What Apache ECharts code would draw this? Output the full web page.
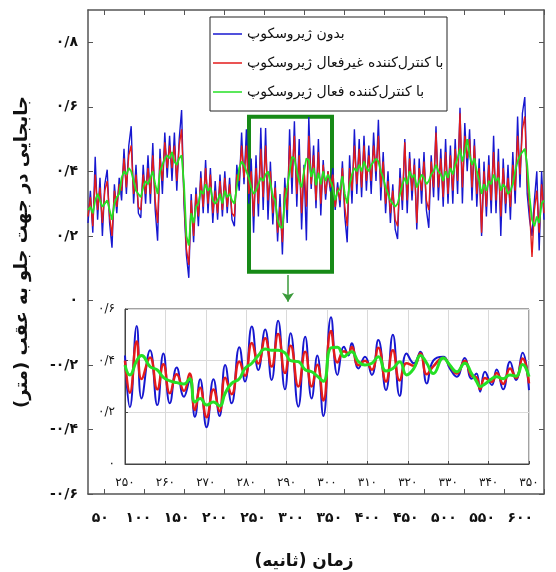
<!DOCTYPE html>
<html><head><meta charset="utf-8">
<script src="https://cdn.jsdelivr.net/npm/echarts@6/dist/echarts.min.js"></script>
<style>html,body{margin:0;padding:0;background:#fff}#c{width:556px;height:572px}</style>
</head><body><div id="c"></div>
<script>
// ---------- data ----------
const seriesNames = ['بدون ژیروسکوپ', 'با کنترل‌کننده غیرفعال ژیروسکوپ', 'با کنترل‌کننده فعال ژیروسکوپ'];
const yTitle = 'جابجایی در جهت جلو به عقب (متر)';
const xTitle = 'زمان (ثانیه)';

const mainTime = [30,33,36,39,42,45,48,51,54,57,60,63,66,69,72,75,78,81,84,87,90,93,96,99,102,105,108,111,114,117,120,123,126,129,132,135,138,141,144,147,150,153,156,159,162,165,168,171,174,177,180,183,186,189,192,195,198,201,204,207,210,213,216,219,222,225,228,231,234,237,240,243,246,249,252,255,258,261,264,267,270,273,276,279,282,285,288,291,294,297,300,303,306,309,312,315,318,321,324,327,330,333,336,339,342,345,348,351,354,357,360,363,366,369,372,375,378,381,384,387,390,393,396,399,402,405,408,411,414,417,420,423,426,429,432,435,438,441,444,447,450,453,456,459,462,465,468,471,474,477,480,483,486,489,492,495,498,501,504,507,510,513,516,519,522,525,528,531,534,537,540,543,546,549,552,555,558,561,564,567,570,573,576,579,582,585,588,591,594,597,600];

const mainBlue = [
 .24,.34,.21,.445,.25,.38,.20,.36,.405,.24,
 .163,.36,.27,.38,.31,.47,.33,.48,.54,.30,
 .42,.27,.256,.42,.30,.45,.30,.488,.28,.185,
 .47,.33,.52,.38,.51,.37,.52,.34,.50,.59,
 .30,.14,.07,.33,.18,.35,.23,.40,.27,.435,
 .27,.41,.24,.37,.25,.39,.26,.40,.27,.38,
 .25,.23,.42,.34,.52,.36,.53,.30,.44,.21,
 .45,.26,.535,.28,.534,.25,.43,.235,.37,.183,
 .33,.142,.38,.24,.53,.33,.555,.29,.50,.22,
 .42,.186,.568,.345,.48,.286,.50,.263,.435,.312,
 .40,.338,.41,.28,.366,.289,.431,.26,.18,.45,
 .30,.53,.33,.50,.32,.51,.34,.48,.33,.52,
 .37,.56,.31,.46,.27,.40,.24,.36,.22,.19,
 .41,.28,.50,.27,.46,.31,.44,.22,.44,.30,
 .46,.28,.225,.45,.32,.54,.31,.47,.29,.50,
 .30,.48,.30,.50,.33,.597,.30,.55,.40,.53,
 .31,.50,.29,.44,.20,.43,.26,.45,.27,.51,
 .27,.47,.20,.44,.27,.42,.25,.46,.30,.57,
 .35,.58,.63,.33,.25,.20,.31,.40,.155,.40,
 .25];

const mainRed = [
 .26,.32,.23,.39,.28,.35,.24,.34,.37,.26,
 .20,.34,.29,.36,.34,.44,.35,.45,.48,.33,
 .39,.29,.28,.39,.33,.41,.33,.45,.31,.24,
 .44,.37,.49,.41,.48,.41,.48,.37,.48,.53,
 .32,.16,.11,.31,.20,.33,.26,.38,.29,.41,
 .30,.39,.27,.34,.27,.37,.28,.38,.29,.36,
 .27,.26,.39,.37,.48,.38,.48,.33,.40,.26,
 .41,.30,.47,.32,.48,.31,.40,.27,.35,.21,
 .29,.18,.35,.28,.48,.38,.51,.33,.45,.27,
 .41,.29,.51,.36,.45,.31,.46,.30,.42,.33,
 .40,.35,.39,.29,.35,.31,.41,.29,.23,.41,
 .34,.48,.36,.47,.35,.48,.37,.45,.37,.48,
 .40,.51,.35,.43,.30,.37,.27,.34,.25,.23,
 .38,.31,.49,.31,.44,.34,.42,.24,.41,.34,
 .43,.31,.28,.43,.35,.52,.35,.44,.32,.46,
 .33,.45,.34,.47,.37,.58,.35,.51,.44,.50,
 .35,.48,.33,.41,.21,.40,.29,.42,.31,.46,
 .31,.43,.26,.41,.30,.38,.29,.42,.34,.51,
 .39,.53,.57,.37,.28,.135,.28,.34,.21,.36,
 .27];

const mainGreen = [
 .28,.29,.27,.31,.33,.31,.29,.30,.31,.28,
 .25,.30,.32,.33,.38,.40,.39,.41,.40,.37,
 .34,.33,.32,.35,.37,.36,.38,.40,.36,.33,
 .40,.42,.44,.45,.44,.46,.43,.42,.44,.45,
 .36,.20,.17,.27,.24,.29,.30,.34,.33,.36,
 .34,.35,.31,.30,.31,.33,.30,.34,.32,.33,
 .31,.30,.35,.41,.43,.42,.40,.38,.35,.33,
 .34,.36,.38,.37,.39,.40,.364,.322,.31,.25,
 .228,.225,.31,.35,.40,.445,.44,.40,.37,.35,
 .40,.44,.435,.383,.41,.357,.396,.36,.40,.37,
 .39,.37,.35,.31,.338,.345,.385,.33,.30,.36,
 .39,.41,.40,.42,.40,.43,.41,.40,.42,.43,
 .44,.43,.40,.38,.35,.33,.31,.30,.29,.30,
 .33,.36,.38,.36,.40,.38,.39,.35,.37,.39,
 .38,.36,.37,.39,.40,.42,.40,.39,.37,.40,
 .38,.41,.39,.42,.44,.47,.43,.46,.50,.45,
 .42,.44,.40,.37,.33,.36,.34,.37,.36,.39,
 .37,.38,.34,.36,.35,.33,.34,.36,.40,.43,
 .45,.46,.47,.42,.32,.25,.23,.26,.24,.30,
 .31];

const insetTime = [250,251.2,252.9,254.1,256.2,258.0,259.5,261.1,262.8,264.6,266.0,267.3,268.6,270.2,271.9,273.4,274.8,276.4,278.3,279.7,281.4,283.0,284.7,286.3,287.9,289.6,291.0,292.9,294.6,296.2,297.6,299.1,301.0,302.6,304.2,305.3,306.1,307.8,309.4,311.1,312.7,314.6,316.3,318.0,319.7,321.5,323.1,324.7,326.3,328.8,330.4,332.1,334.1,335.8,337.0,337.9,339.1,340.8,342.0,343.6,345.3,346.8,348.4,350.0];
const insetBlue = [.42,.22,.534,.254,.44,.228,.428,.235,.374,.26,.32,.183,.328,.142,.328,.186,.383,.235,.452,.319,.532,.364,.521,.325,.555,.289,.506,.222,.493,.254,.42,.186,.568,.345,.454,.42,.467,.37,.415,.345,.48,.286,.50,.263,.428,.39,.435,.312,.40,.415,.37,.338,.41,.33,.35,.28,.357,.306,.366,.289,.396,.325,.431,.286];
const insetRed = [.40,.276,.474,.329,.412,.289,.386,.274,.347,.283,.35,.209,.295,.181,.288,.204,.334,.27,.397,.342,.468,.389,.487,.377,.503,.352,.458,.30,.435,.30,.384,.246,.515,.393,.436,.428,.453,.382,.40,.365,.45,.319,.44,.323,.39,.38,.428,.347,.378,.41,.38,.35,.40,.34,.335,.29,.333,.318,.352,.31,.37,.333,.408,.312];
const insetGreen = [.383,.345,.40,.42,.377,.364,.335,.322,.315,.31,.33,.24,.254,.228,.24,.225,.274,.312,.33,.37,.39,.42,.445,.44,.44,.43,.40,.396,.365,.357,.34,.32,.45,.452,.415,.428,.435,.396,.383,.39,.415,.36,.37,.396,.345,.37,.42,.39,.35,.41,.383,.357,.39,.35,.32,.30,.31,.33,.338,.33,.345,.34,.385,.338];

const mainXTicks = [50,100,150,200,250,300,350,400,450,500,550,600];
const mainXLabels = [50,100,150,200,250,300,350,400,450,500,550,600];
const mainYTicks = [-0.6,-0.4,-0.2,0,0.2,0.4,0.6,0.8];
// zoom-box annotation (data coordinates) and arrow
const boxCorners = [[231.25, 0.569], [335, 0.089]];
const arrowLine = [[280, 0.079], [280, -0.004]];

// ---------- helpers ----------
const FONT = 'DejaVu Sans';
const faDigits = '۰۱۲۳۴۵۶۷۸۹';
const fa = v => String(v).replace(/[0-9]/g, d => faDigits[d]).replace('.', '/');
const yLab = v => Math.abs(v) < 1e-9 ? '۰' : fa(String(Math.round(v * 10) / 10));
const pairs = (xs, ys) => xs.map((x, i) => [x, ys[i]]);
const C_BLUE = '#1717d0', C_RED = '#e31b1b', C_GREEN = '#25e025';
const frame = '#555';

const chart = echarts.init(document.getElementById('c'), null, {renderer: 'canvas'});
chart.setOption({
  animation: false,
  backgroundColor: '#fff',
  textStyle: {fontFamily: FONT},
  grid: [
    {left: 88, top: 10, width: 456, height: 484},
    {left: 125, top: 309, width: 404, height: 155, show: true, backgroundColor: '#fff', borderColor: '#444', borderWidth: 1},
    {left: 88, top: 494, width: 456, height: 1}
  ],
  xAxis: [
    {gridIndex: 0, type: 'value', min: 30, max: 600, position: 'bottom',
     axisLine: {show: true, onZero: false, lineStyle: {color: frame, width: 1.5}},
     axisTick: {show: true, inside: true, length: 5, customValues: mainXTicks, lineStyle: {color: frame}},
     axisLabel: {show: false}, splitLine: {show: false}},
    {gridIndex: 0, type: 'value', min: 30, max: 600, position: 'top',
     axisLine: {show: true, onZero: false, lineStyle: {color: frame, width: 1.5}},
     axisTick: {show: true, inside: true, length: 5, customValues: mainXTicks, lineStyle: {color: frame}},
     axisLabel: {show: false}, splitLine: {show: false}},
    {gridIndex: 1, type: 'value', min: 250, max: 350, interval: 10, position: 'bottom',
     axisLine: {show: true, onZero: false, lineStyle: {color: '#444'}},
     axisTick: {show: true, inside: true, length: 3, lineStyle: {color: '#444'}},
     axisLabel: {formatter: fa, margin: 13, fontSize: 12, color: '#111', fontFamily: FONT},
     splitLine: {show: true, lineStyle: {color: '#dadada'}}},
    {gridIndex: 2, type: 'value', min: 34, max: 631, position: 'bottom',
     axisLine: {show: false}, axisTick: {show: false},
     axisLabel: {customValues: mainXLabels, formatter: fa, margin: 16, fontSize: 14, fontWeight: 'bold', color: '#111', fontFamily: FONT},
     splitLine: {show: false}}
  ],
  yAxis: [
    {gridIndex: 0, type: 'value', min: -0.6, max: 0.9, position: 'left',
     axisLine: {show: true, onZero: false, lineStyle: {color: frame, width: 1.5}},
     axisTick: {show: true, inside: true, length: 5, customValues: mainYTicks, lineStyle: {color: frame}},
     axisLabel: {customValues: mainYTicks, formatter: yLab, margin: 10, fontSize: 14, fontWeight: 'bold', color: '#111', fontFamily: FONT},
     splitLine: {show: false}},
    {gridIndex: 0, type: 'value', min: -0.6, max: 0.9, position: 'right',
     axisLine: {show: true, onZero: false, lineStyle: {color: frame, width: 1.5}},
     axisTick: {show: true, inside: true, length: 5, customValues: mainYTicks, lineStyle: {color: frame}},
     axisLabel: {show: false}, splitLine: {show: false}},
    {gridIndex: 1, type: 'value', min: 0, max: 0.6, interval: 0.2, position: 'left',
     axisLine: {show: true, onZero: false, lineStyle: {color: '#444'}},
     axisTick: {show: true, inside: true, length: 3, lineStyle: {color: '#444'}},
     axisLabel: {formatter: yLab, margin: 10, fontSize: 12, color: '#111', fontFamily: FONT},
     splitLine: {show: true, lineStyle: {color: '#dadada'}}},
    {gridIndex: 2, type: 'value', show: false, min: 0, max: 1}
  ],
  legend: {
    left: 210, top: 17, orient: 'vertical', itemGap: 15, padding: [10, 4, 9, 3],
    icon: 'rect', itemWidth: 29, itemHeight: 1.5, selectedMode: false, z: 10,
    textStyle: {fontFamily: FONT, fontSize: 14, color: '#111'},
    data: seriesNames
  },
  graphic: [
    {type: 'rect', z: 9, shape: {x: 210, y: 17, width: 237, height: 94},
     style: {fill: '#fff', stroke: '#222', lineWidth: 1}},
    {type: 'text', z: 9, x: 22, y: 252, rotation: Math.PI / 2,
     style: {text: yTitle, fontFamily: FONT, fontSize: 18, fontWeight: 'bold', fill: '#111', align: 'center', verticalAlign: 'middle'}},
    {type: 'text', z: 9, x: 304, y: 562,
     style: {text: xTitle, fontFamily: FONT, fontSize: 17, fontWeight: 'bold', fill: '#111', align: 'center', verticalAlign: 'middle'}}
  ],
  series: [
    {type: 'line', name: seriesNames[0], xAxisIndex: 0, yAxisIndex: 0, data: pairs(mainTime, mainBlue),
     symbol: 'none', lineStyle: {color: C_BLUE, width: 1.4}, itemStyle: {color: C_BLUE}, z: 2},
    {type: 'line', name: seriesNames[1], xAxisIndex: 0, yAxisIndex: 0, data: pairs(mainTime, mainRed),
     symbol: 'none', lineStyle: {color: C_RED, width: 1.4}, itemStyle: {color: C_RED}, z: 3},
    {type: 'line', name: seriesNames[2], xAxisIndex: 0, yAxisIndex: 0, data: pairs(mainTime, mainGreen),
     symbol: 'none', lineStyle: {color: C_GREEN, width: 1.8}, itemStyle: {color: C_GREEN}, z: 4,
     markArea: {silent: true, itemStyle: {color: 'rgba(0,0,0,0)', borderColor: '#178a17', borderWidth: 4},
       data: [[{xAxis: boxCorners[0][0], yAxis: boxCorners[0][1]}, {xAxis: boxCorners[1][0], yAxis: boxCorners[1][1]}]]},
     markLine: {silent: true, symbol: ['none', 'arrow'], symbolSize: 9, label: {show: false},
       lineStyle: {color: '#3a9a3a', width: 1.5, type: 'solid'},
       data: [[{coord: arrowLine[0]}, {coord: arrowLine[1]}]]}},
    {type: 'line', name: seriesNames[0], xAxisIndex: 2, yAxisIndex: 2, data: pairs(insetTime, insetBlue),
     smooth: 0.5, symbol: 'none', lineStyle: {color: C_BLUE, width: 2}, itemStyle: {color: C_BLUE}, z: 5},
    {type: 'line', name: seriesNames[1], xAxisIndex: 2, yAxisIndex: 2, data: pairs(insetTime, insetRed),
     smooth: 0.5, symbol: 'none', lineStyle: {color: C_RED, width: 2.5}, itemStyle: {color: C_RED}, z: 6},
    {type: 'line', name: seriesNames[2], xAxisIndex: 2, yAxisIndex: 2, data: pairs(insetTime, insetGreen),
     smooth: 0.5, symbol: 'none', lineStyle: {color: C_GREEN, width: 3}, itemStyle: {color: C_GREEN}, z: 7}
  ]
});
</script></body></html>
